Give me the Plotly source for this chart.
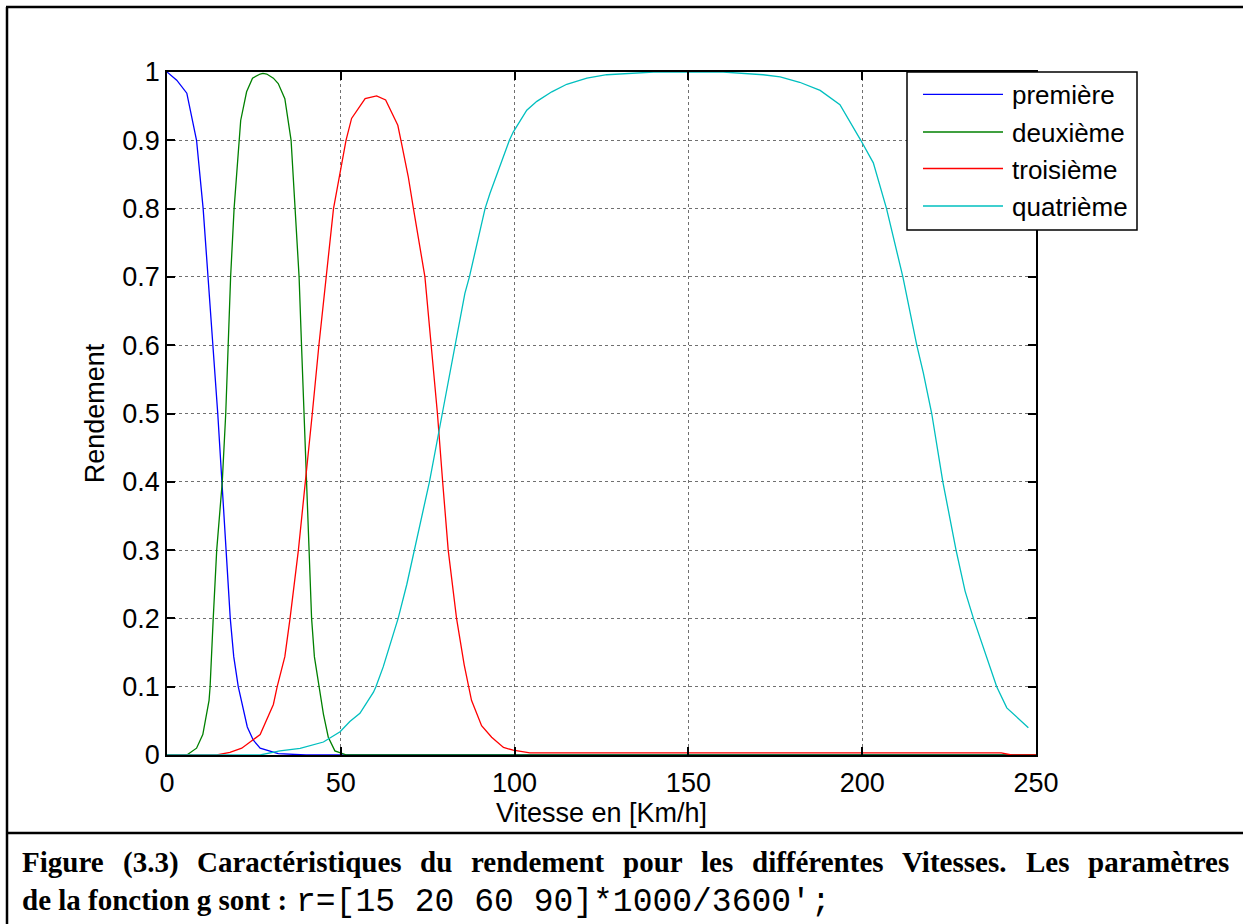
import plotly.graph_objects as go

# ---------------- data ----------------
series_names = ["première", "deuxième", "troisième", "quatrième"]
series_colors = ["#0000ff", "#008000", "#ff0000", "#00bfbf"]

x_premiere = [0, 2.8, 5.7, 8.5, 10.4, 11.9, 13.2, 14.6, 15.9, 17.0, 18.2, 19.2, 20.5, 23.1, 24.8, 26.8, 32.0, 40.0, 250]
y_premiere = [1.0, 0.988, 0.969, 0.9, 0.8, 0.7, 0.6, 0.5, 0.4, 0.3, 0.2, 0.144, 0.1, 0.041, 0.022, 0.010, 0.002, 0.0, 0.0]

x_deuxieme = [0, 5.7, 8.5, 10.3, 12.1, 12.4, 13.3, 14.3, 15.9, 16.9, 17.6, 18.3, 19.3, 20.8, 21.2, 22.9, 24.6,
              26.8, 27.6, 28.7, 30.6, 32.0, 33.9, 35.7, 36.8, 38.0, 38.7, 39.4, 40.0, 40.7, 41.6, 42.4, 43.8,
              45.0, 46.4, 48.3, 51.7, 250]
y_deuxieme = [0.0, 0.0, 0.01, 0.03, 0.08, 0.1, 0.2, 0.3, 0.4, 0.5, 0.6, 0.7, 0.8, 0.9, 0.929, 0.971, 0.991,
              0.997, 0.998, 0.997, 0.991, 0.983, 0.961, 0.9, 0.8, 0.7, 0.6, 0.5, 0.4, 0.3, 0.2, 0.144, 0.1,
              0.06, 0.026, 0.006, 0.0, 0.0]

x_troisieme = [0, 14.3, 18.1, 21.5, 23.9, 26.8, 30.6, 31.7, 33.9, 35.4, 37.8, 39.9, 41.8, 43.7, 45.7, 47.9,
               51.5, 53.1, 57.0, 60.3, 62.9, 66.4, 67.3, 69.4, 70.9, 73.8, 74.2, 76.0, 77.8, 79.3, 80.9, 83.3,
               85.5, 87.6, 90.5, 93.4, 96.8, 99.6, 104.4, 240, 243, 250]
y_troisieme = [0.0, 0.0, 0.004, 0.01, 0.019, 0.03, 0.074, 0.1, 0.144, 0.2, 0.3, 0.4, 0.5, 0.6, 0.7, 0.8,
               0.9, 0.932, 0.961, 0.965, 0.959, 0.922, 0.9, 0.847, 0.8, 0.717, 0.7, 0.6, 0.5, 0.4, 0.3, 0.2,
               0.132, 0.08, 0.043, 0.026, 0.011, 0.007, 0.003, 0.003, 0.0, 0.0]

x_quatrieme = [0, 26.8, 32.5, 38.3, 45.0, 49.8, 52.6, 55.5, 59.4, 60.1, 62.2, 65.6, 66.5, 69.0, 71.2, 72.8,
               75.5, 79.2, 83.1, 85.7, 87.0, 91.5, 92.9, 98.5, 99.6, 103.5, 106.4, 110.7, 115.0, 120.8, 126.5,
               132.3, 140, 160, 165.8, 171.5, 176.4, 182.0, 187.9, 193.6, 199.6, 203.2, 207.0, 211.7, 215.7,
               217.6, 220.0, 223.2, 227.0, 229.6, 232.0, 238.7, 241.6, 247.8]
y_quatrieme = [0.0, 0.0, 0.006, 0.0098, 0.019, 0.034, 0.049, 0.061, 0.092, 0.1, 0.129, 0.183, 0.2, 0.25, 0.3,
               0.335, 0.4, 0.5, 0.603, 0.676, 0.7, 0.8, 0.822, 0.9, 0.912, 0.944, 0.957, 0.971, 0.982, 0.991,
               0.996, 0.998, 1.0, 1.0, 0.998, 0.996, 0.993, 0.985, 0.973, 0.952, 0.9, 0.867, 0.8, 0.7, 0.6,
               0.559, 0.5, 0.4, 0.3, 0.24, 0.2, 0.1, 0.069, 0.04]

x_tickvals = [0, 50, 100, 150, 200, 250]
x_ticktext = ["0", "50", "100", "150", "200", "250"]
y_tickvals = [0, 0.1, 0.2, 0.3, 0.4, 0.5, 0.6, 0.7, 0.8, 0.9, 1.0]
y_ticktext = ["0", "0.1", "0.2", "0.3", "0.4", "0.5", "0.6", "0.7", "0.8", "0.9", "1"]

x_title = "Vitesse en [Km/h]"
y_title = "Rendement"
caption_line1 = "Figure (3.3) Caractéristiques du rendement pour les différentes Vitesses. Les paramètres"
caption_line2_bold = "de la fonction g sont :"
caption_line2_code = "r=[15 20 60 90]*1000/3600';"

# ---------------- page geometry (pixels) ----------------
W, H = 1243, 924
PL, PR, PT, PB = 167, 1036, 72, 755     # plot area


def px(xp):
    return (xp - PL) / (PR - PL)


def py(yp):
    return (PB - yp) / (PB - PT)


SANS = "Liberation Sans, Arial, sans-serif"
SERIF = "Liberation Serif, Times New Roman, serif"
MONO = "Liberation Mono, Courier New, monospace"
FS = 27
CAP_FS = 29
CODE_FS = 33

fig = go.Figure()
xs = [x_premiere, x_deuxieme, x_troisieme, x_quatrieme]
ys = [y_premiere, y_deuxieme, y_troisieme, y_quatrieme]
for name, color, xv, yv in zip(series_names, series_colors, xs, ys):
    fig.add_trace(go.Scatter(x=xv, y=yv, mode="lines", name=name,
                             line=dict(color=color, width=1.3), showlegend=False))

axis_common = dict(
    showline=True, linecolor="black", linewidth=1.8, mirror="ticks",
    ticks="inside", ticklen=8, tickwidth=1.5, tickcolor="black",
    showgrid=True, gridcolor="#707070", griddash="dot", gridwidth=1,
    zeroline=False, tickfont=dict(family=SANS, size=FS, color="black"),
)

fig.update_xaxes(range=[0, 250], tickvals=x_tickvals, ticktext=x_ticktext, ticklabelstandoff=3,
                 title=dict(text=x_title, font=dict(family=SANS, size=FS, color="black"), standoff=5),
                 **axis_common)
fig.update_yaxes(range=[0, 1], tickvals=y_tickvals, ticktext=y_ticktext,
                 title=dict(text=y_title, font=dict(family=SANS, size=FS, color="black"), standoff=10),
                 **axis_common)

shapes = []
annotations = []

# outer frame and caption separator
shapes.append(dict(type="line", xref="paper", yref="paper", x0=px(7), x1=px(7), y0=py(7), y1=py(H + 5),
                   line=dict(color="black", width=2.5)))
shapes.append(dict(type="line", xref="paper", yref="paper", x0=px(6), x1=px(W + 5), y0=py(7), y1=py(7),
                   line=dict(color="black", width=2.5)))
shapes.append(dict(type="line", xref="paper", yref="paper", x0=px(6), x1=px(W + 5), y0=py(833), y1=py(833),
                   line=dict(color="black", width=2.5)))

# legend box (MATLAB style)
LX0, LX1, LY0, LY1 = 907, 1137, 72, 230
shapes.append(dict(type="rect", xref="paper", yref="paper", x0=px(LX0), x1=px(LX1), y0=py(LY0), y1=py(LY1),
                   fillcolor="white", line=dict(color="black", width=1.5), layer="above"))
row_y = [94.3, 132, 168.5, 206]
for name, color, ry in zip(series_names, series_colors, row_y):
    shapes.append(dict(type="line", xref="paper", yref="paper", x0=px(923), x1=px(1003), y0=py(ry), y1=py(ry),
                       line=dict(color=color, width=1.3), layer="above"))
    annotations.append(dict(xref="paper", yref="paper", x=px(1010), y=py(ry + 1), text=name, showarrow=False,
                            xanchor="left", yanchor="middle",
                            font=dict(family=SANS, size=26, color="black")))

# ---------------- caption (justified first line, like the word-processor original) ----------------
# approximate advance widths of a bold Times-like face, in 1/1000 em
TB = {' ': 250, '(': 333, ')': 333, '.': 250, '3': 500, ':': 333, 'F': 611, 'C': 722, 'V': 722, 'L': 667,
      'a': 500, 'c': 444, 'd': 556, 'e': 444, 'é': 444, 'è': 444, 'f': 333, 'g': 500, 'i': 278, 'l': 278,
      'm': 833, 'n': 556, 'o': 500, 'p': 556, 'q': 556, 'r': 444, 's': 389, 't': 333, 'u': 556}


def wbold(s):
    return sum(TB.get(ch, 500) for ch in s) * CAP_FS / 1000.0


CAP_X0, CAP_X1 = 20, 1228
words = caption_line1.split(" ")
natural = sum(wbold(w) for w in words)
gap = (CAP_X1 - CAP_X0 - natural) / (len(words) - 1)
cx = CAP_X0
for w in words:
    annotations.append(dict(xref="paper", yref="paper", x=px(cx), y=py(862), text="<b>" + w + "</b>",
                            showarrow=False, xanchor="left", yanchor="middle",
                            font=dict(family=SERIF, size=CAP_FS, color="black")))
    cx += wbold(w) + gap

annotations.append(dict(xref="paper", yref="paper", x=px(CAP_X0), y=py(900), text="<b>" + caption_line2_bold + "</b>",
                        showarrow=False, xanchor="left", yanchor="middle",
                        font=dict(family=SERIF, size=CAP_FS, color="black")))
annotations.append(dict(xref="paper", yref="paper", x=px(294), y=py(902), text=caption_line2_code,
                        showarrow=False, xanchor="left", yanchor="middle",
                        font=dict(family=MONO, size=CODE_FS, color="black")))

fig.update_layout(
    width=W, height=H, autosize=False,
    margin=dict(l=PL, r=W - PR, t=PT, b=H - PB, pad=0),
    paper_bgcolor="white", plot_bgcolor="white",
    shapes=shapes, annotations=annotations, showlegend=False,
)

fig.write_html("out.html")
